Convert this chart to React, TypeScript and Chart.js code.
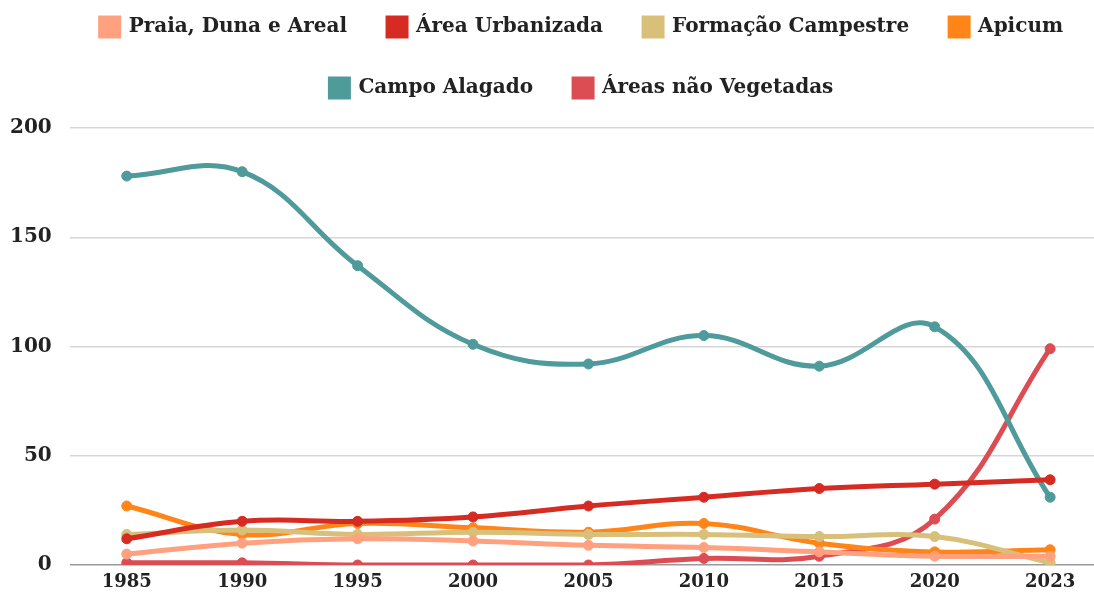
import React, { useEffect, useRef } from "react";
import { Chart, registerables } from "chart.js";

Chart.register(...registerables);

const years = ["1985", "1990", "1995", "2000", "2005", "2010", "2015", "2020", "2023"];

const praiaDunaAreal = [5, 10, 12, 11, 9, 8, 6, 4, 4];
const areaUrbanizada = [12, 20, 20, 22, 27, 31, 35, 37, 39];
const formacaoCampestre = [14, 16, 14, 15, 14, 14, 13, 13, 1];
const apicum = [27, 14, 19, 17, 15, 19, 10, 6, 7];
const campoAlagado = [178, 180, 137, 101, 92, 105, 91, 109, 31];
const areasNaoVegetadas = [1, 1, 0, 0, 0, 3, 4, 21, 99];

const seriesNames = [
  "Praia, Duna e Areal",
  "Área Urbanizada",
  "Formação Campestre",
  "Apicum",
  "Campo Alagado",
  "Áreas não Vegetadas",
];
const seriesValues = [praiaDunaAreal, areaUrbanizada, formacaoCampestre, apicum, campoAlagado, areasNaoVegetadas];
const seriesColors = ["#ffa17f", "#d62b22", "#d8c07a", "#ff8518", "#4f9a9a", "#dc4d53"];

const yTicks = [0, 50, 100, 150, 200];

const FONT = "'DejaVu Serif', serif";

const legendTweak = {
  id: "legendTweak",
  beforeInit(chart: any) {
    const legend = chart.legend;
    if (!legend) return;
    const origFit = legend.fit;
    legend.fit = function () {
      origFit.call(this);
      this.height += 20;
    };
  },
  afterLayout(chart: any) {
    const legend = chart.legend;
    if (!legend) return;
    const a = chart.chartArea;
    const shift = (a.left + a.right) / 2 - (legend.left + legend.right) / 2;
    legend.left += shift;
    legend.right += shift;
  },
};

export default function App() {
  const ref = useRef<HTMLCanvasElement | null>(null);

  useEffect(() => {
    document.body.style.margin = "0";
    const canvas = ref.current;
    if (!canvas) return;
    const chart = new Chart(canvas, {
      type: "line",
      data: {
        datasets: seriesNames.map((name, k) => ({
          label: name,
          data: seriesValues[k].map((v, i) => ({ x: i, y: v })),
          borderColor: seriesColors[k],
          backgroundColor: seriesColors[k],
          pointBackgroundColor: seriesColors[k],
          pointBorderColor: seriesColors[k],
          borderWidth: 5,
          pointBorderWidth: 1,
          pointRadius: 5,
          pointHoverRadius: 5,
          tension: 0.4,
          fill: false,
        })),
      },
      plugins: [legendTweak],
      options: {
        animation: false,
        responsive: true,
        maintainAspectRatio: false,
        layout: { padding: { top: -24, left: -8, right: 0, bottom: -6 } },
        plugins: {
          tooltip: { enabled: false },
          legend: {
            position: "top",
            labels: {
              boxWidth: 18,
              boxHeight: 18,
              padding: 41,
              color: "#222",
              font: { family: FONT, size: 20, weight: "bold", lineHeight: 1 },
            },
          },
        },
        scales: {
          x: {
            type: "linear",
            min: -0.494,
            max: 8.38,
            grid: { display: false, drawTicks: false },
            border: { display: false },
            afterBuildTicks: (scale: any) => {
              scale.ticks = years.map((_, i) => ({ value: i }));
            },
            afterFit: (scale: any) => {
              scale.paddingLeft = 0;
              scale.paddingRight = 0;
            },
            ticks: {
              autoSkip: false,
              maxRotation: 0,
              padding: 7,
              color: "#222",
              font: { family: FONT, size: 18, weight: "bold" },
              callback: (v: any) => years[v] ?? "",
            },
          },
          y: {
            min: 0,
            max: 200,
            afterBuildTicks: (scale: any) => {
              scale.ticks = yTicks.map((v) => ({ value: v }));
            },
            border: { display: false },
            grid: {
              drawTicks: false,
              lineWidth: 1.5,
              color: (ctx: any) => (ctx.tick && ctx.tick.value === 0 ? "#9a9a9a" : "#d6d6d6"),
            },
            ticks: {
              padding: 18,
              color: "#222",
              font: { family: FONT, size: 20, weight: "bold" },
            },
          },
        },
      },
    });
    return () => chart.destroy();
  }, []);

  return (
    <div style={{ width: 1094, height: 595, overflow: "hidden", position: "relative" }}>
      <div style={{ width: 1100, height: 595, position: "relative" }}>
        <canvas ref={ref} />
      </div>
    </div>
  );
}
